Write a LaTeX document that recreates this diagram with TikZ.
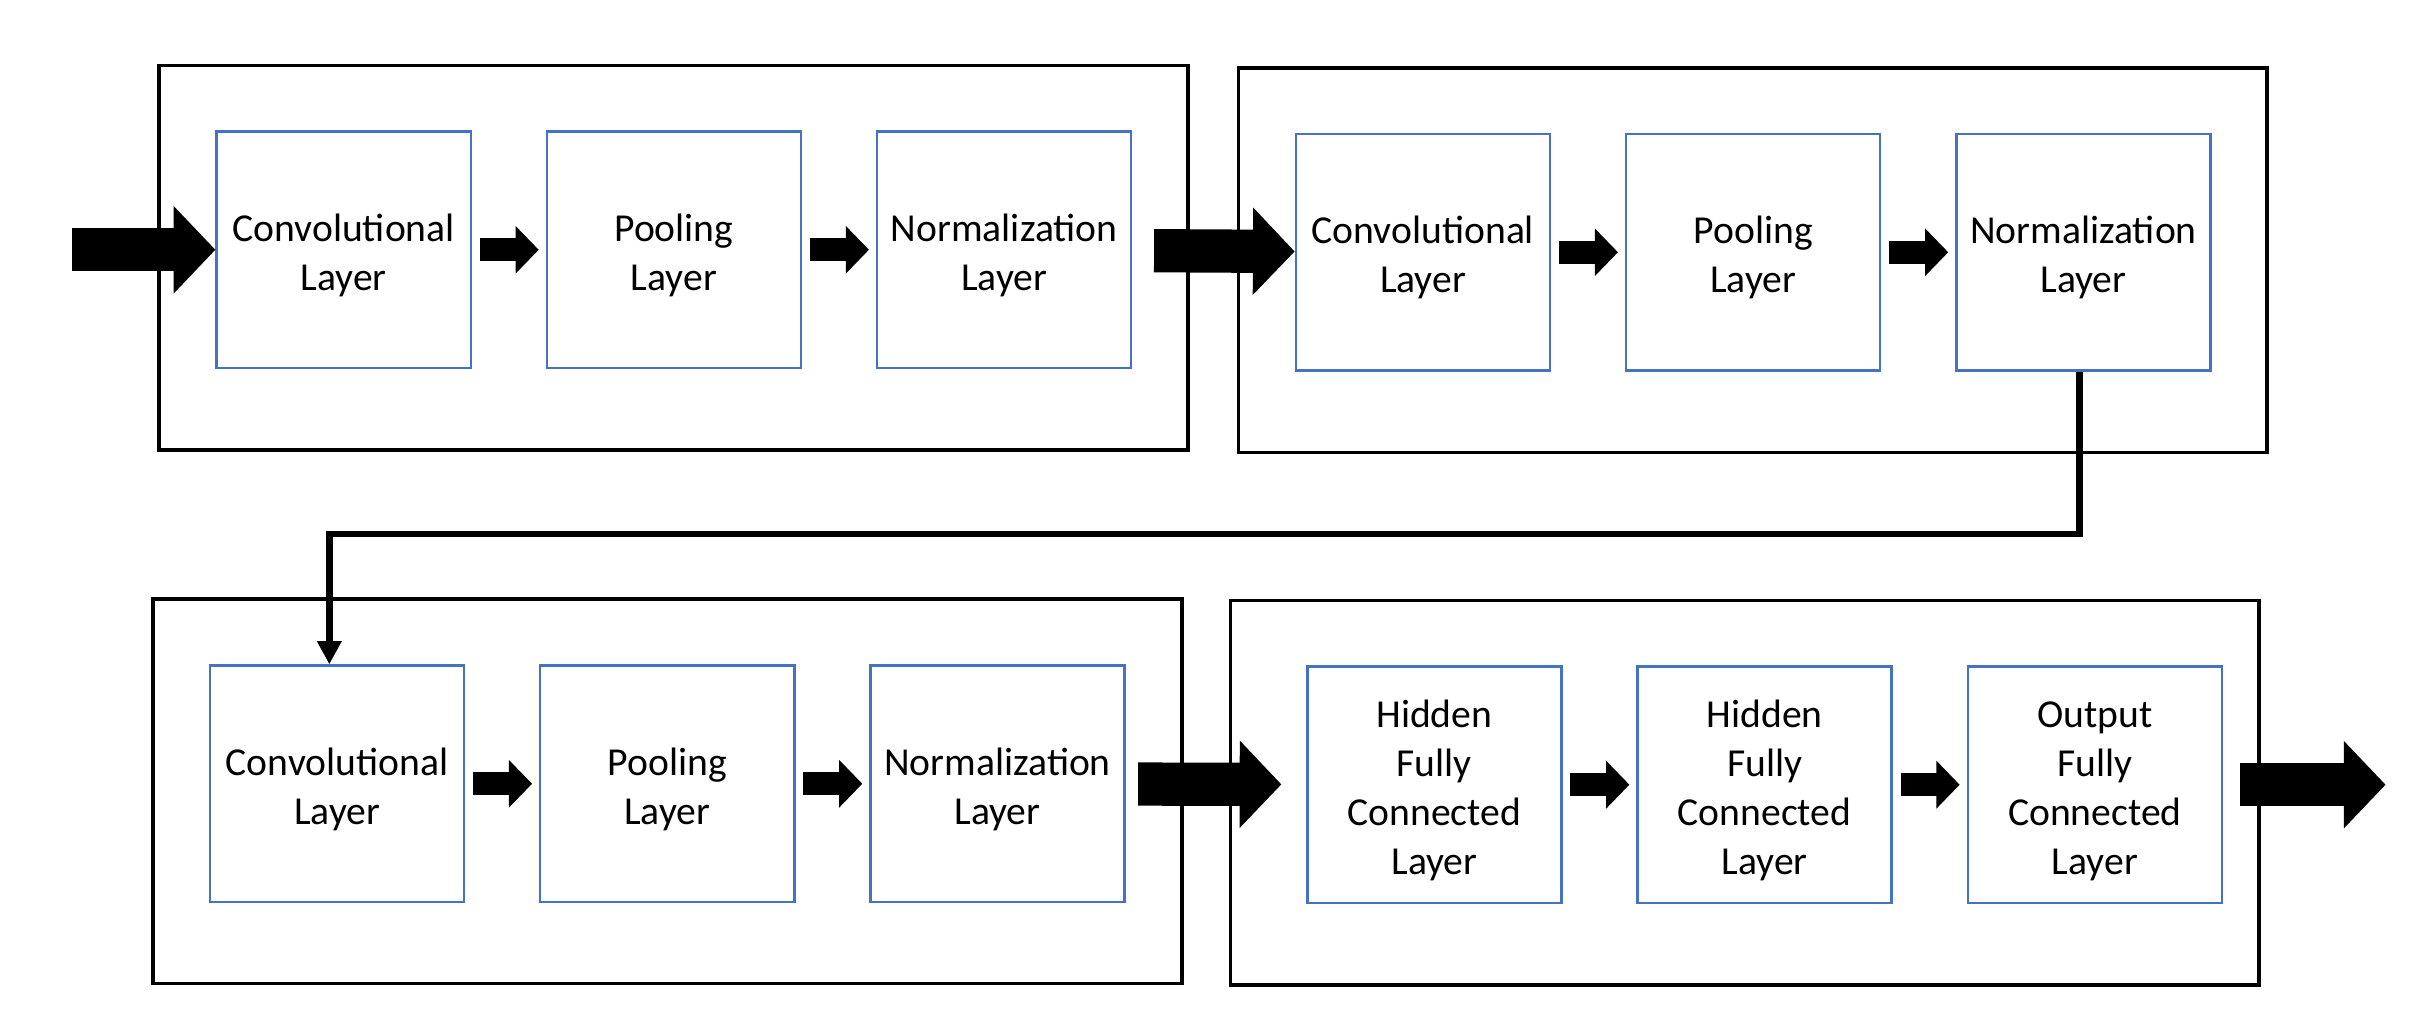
\documentclass[tikz,border=0pt]{standalone}
\usepackage{fontspec}
\setmainfont{Carlito}
\usetikzlibrary{arrows.meta,positioning}
\definecolor{layerblue}{HTML}{4472C4}
\newcommand{\topgap}{\rule{0pt}{7.1pt}}

\begin{document}
\begin{tikzpicture}[node distance=2.138cm,
  every node/.style={font=\fontsize{7.3}{9}\selectfont},
  layer/.style={draw=layerblue,line width=0.45pt,inner sep=0pt,align=center,
    minimum width=1.645cm,minimum height=1.53cm},
  stage/.style={draw,line width=0.65pt,inner sep=0pt,minimum width=6.66cm,minimum height=2.488cm},
  flow/.style={draw,line width=0.15cm,-{Triangle[length=0.15cm,width=0.30cm]},
    shorten <=0.05cm,shorten >=0.045cm},
  bigflow/.style={draw,line width=0.28cm,-{Triangle[length=0.27cm,width=0.55cm]}},
  link/.style={draw,line width=1.2pt,-{Triangle[length=0.15cm,width=0.15cm]}}]
  \useasboundingbox (0,0) rectangle (15.68,6.552);
  % stages
  \node[stage] (stage1) at (4.36,4.883) {};
  \node[stage] (stage2) at (11.347,4.868) {};
  \node[stage] (stage3) at (4.3215,1.43) {};
  \node[stage] (stage4) at (11.295,1.419) {};
  % first conv block
  \node[layer] (conv1) at (2.225,4.935) {\topgap Convolutional\\Layer};
  \node[layer] (pool1) [right of=conv1] {\topgap Pooling\\Layer};
  \node[layer] (norm1) [right of=pool1] {\topgap Normalization\\Layer};
  % second conv block
  \node[layer] (conv2) at (9.212,4.919) {\topgap Convolutional\\Layer};
  \node[layer] (pool2) [right of=conv2] {\topgap Pooling\\Layer};
  \node[layer] (norm2) [right of=pool2] {\topgap Normalization\\Layer};
  % third conv block
  \node[layer] (conv3) at (2.182,1.478) {\topgap Convolutional\\Layer};
  \node[layer] (pool3) [right of=conv3] {\topgap Pooling\\Layer};
  \node[layer] (norm3) [right of=pool3] {\topgap Normalization\\Layer};
  % fully connected block
  \node[layer] (fc1) at (9.286,1.472) {\topgap Hidden\\Fully\\Connected\\Layer};
  \node[layer] (fc2) [right of=fc1] {\topgap Hidden\\Fully\\Connected\\Layer};
  \node[layer] (fcout) [right of=fc2] {\topgap Output\\Fully\\Connected\\Layer};
  \coordinate (input) at (0.465,4.935);
  \coordinate (output) at (15.444,1.472);
  \coordinate (turn) at (0,3.095);
  \path (input) edge [bigflow] (conv1);
  \path (conv1) edge [flow] (pool1);
  \path (pool1) edge [flow] (norm1);
  \path (norm1) edge [bigflow,shorten <=0.14cm] (conv2);
  \path (conv2) edge [flow] (pool2);
  \path (pool2) edge [flow] (norm2);
  \path (conv3) edge [flow] (pool3);
  \path (pool3) edge [flow] (norm3);
  \path (norm3) edge [bigflow,shorten <=0.08cm,shorten >=0.16cm] (fc1);
  \path (fc1) edge [flow] (fc2);
  \path (fc2) edge [flow] (fcout);
  \path (fcout) edge [bigflow,shorten <=0.11cm] (output);
  \draw[link] ([xshift=-0.027cm]norm2.south) -- ([xshift=-0.027cm]norm2.south |- turn)
    -- ([xshift=-0.05cm]conv3.north |- turn) -- ([xshift=-0.05cm]conv3.north);
\end{tikzpicture}
\end{document}
